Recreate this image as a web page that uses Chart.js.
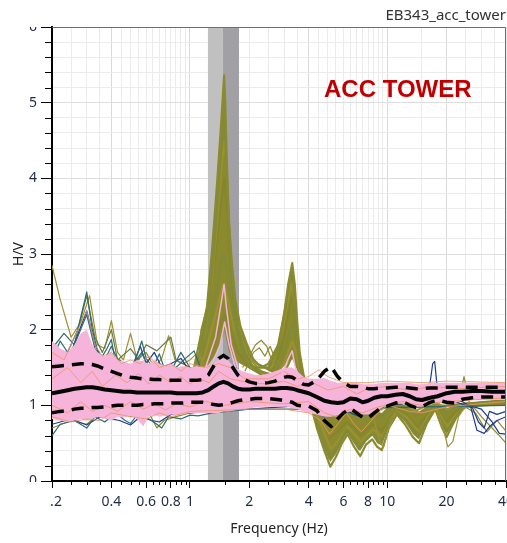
<!DOCTYPE html>
<html>
<head>
<meta charset="utf-8">
<title>EB343_acc_tower</title>
<script src="https://cdn.jsdelivr.net/npm/chart.js@4.4.1/dist/chart.umd.min.js"></script>
<style>
  html, body { margin: 0; padding: 0; background: #fff; }
</style>
</head>
<body>
<canvas id="hvChart" width="507" height="543"></canvas>
<script>
// ---- H/V data -------------------------------------------------------------

// frequency grid (Hz) for the statistic curves and the pink window band
const freqs = [0.2, 0.22, 0.24, 0.26, 0.28, 0.3, 0.32, 0.34, 0.37, 0.4,
  0.43, 0.46, 0.5, 0.54, 0.58, 0.62, 0.66, 0.7, 0.75, 0.8,
  0.86, 0.92, 1.0, 1.08, 1.16, 1.24, 1.32, 1.4, 1.48, 1.56,
  1.65, 1.75, 1.85, 2.0, 2.15, 2.3, 2.5, 2.7, 2.9, 3.1,
  3.3, 3.5, 3.75, 4.0, 4.4, 4.8, 5.2, 5.6, 6.0, 6.5,
  7.0, 7.5, 8.0, 8.6, 9.3, 10, 11, 12, 13, 14,
  15, 16.5, 18, 20, 22, 24, 27, 30, 34, 40];

const meanHV = [1.16, 1.18, 1.2, 1.22, 1.23, 1.24, 1.24, 1.23, 1.21, 1.2,
  1.19, 1.18, 1.18, 1.17, 1.17, 1.17, 1.17, 1.17, 1.17, 1.17,
  1.16, 1.16, 1.16, 1.16, 1.17, 1.2, 1.25, 1.29, 1.31, 1.29,
  1.25, 1.22, 1.21, 1.21, 1.22, 1.22, 1.22, 1.22, 1.23, 1.23,
  1.22, 1.2, 1.18, 1.16, 1.11, 1.06, 1.04, 1.03, 1.04, 1.09,
  1.08, 1.04, 1.06, 1.1, 1.12, 1.12, 1.14, 1.15, 1.12, 1.08,
  1.07, 1.1, 1.12, 1.16, 1.18, 1.18, 1.19, 1.19, 1.18, 1.18];

const upperHV = [1.51, 1.52, 1.53, 1.54, 1.55, 1.55, 1.54, 1.52, 1.48, 1.45,
  1.42, 1.39, 1.37, 1.36, 1.35, 1.35, 1.34, 1.34, 1.33, 1.33,
  1.33, 1.33, 1.33, 1.33, 1.34, 1.4, 1.52, 1.62, 1.66, 1.62,
  1.5, 1.4, 1.35, 1.31, 1.29, 1.29, 1.3, 1.32, 1.36, 1.38,
  1.37, 1.33, 1.28, 1.27, 1.33, 1.45, 1.51, 1.38, 1.3, 1.25,
  1.25, 1.24, 1.22, 1.22, 1.23, 1.23, 1.24, 1.24, 1.23, 1.22,
  1.22, 1.23, 1.23, 1.24, 1.24, 1.24, 1.24, 1.24, 1.24, 1.24];

const lowerHV = [0.9, 0.92, 0.93, 0.95, 0.96, 0.96, 0.97, 0.97, 0.98, 0.99,
  1.0, 1.0, 1.0, 1.0, 1.01, 1.01, 1.02, 1.02, 1.02, 1.03,
  1.03, 1.03, 1.04, 1.04, 1.04, 1.03, 1.01, 1.0, 1.01, 1.02,
  1.04, 1.06, 1.07, 1.08, 1.09, 1.09, 1.09, 1.08, 1.07, 1.06,
  1.04, 1.0, 0.99, 0.99, 0.93, 0.8, 0.72, 0.82, 0.9, 0.96,
  0.9, 0.84, 0.83, 0.9, 0.97, 0.99, 1.03, 1.05, 1.0, 0.97,
  0.98, 1.04, 1.07, 1.04, 1.03, 1.08, 1.1, 1.11, 1.11, 1.11];

// spread of the bulk of the windows (pink)
const pinkUpper = [1.85, 1.75, 1.7, 1.8, 1.95, 2.0, 1.8, 1.7, 1.65, 1.7,
  1.6, 1.58, 1.55, 1.6, 1.58, 1.55, 1.6, 1.55, 1.52, 1.55,
  1.5, 1.52, 1.5, 1.52, 1.5, 1.52, 1.55, 1.6, 1.62, 1.6,
  1.52, 1.48, 1.45, 1.42, 1.4, 1.4, 1.42, 1.45, 1.48, 1.5,
  1.5, 1.45, 1.38, 1.35, 1.35, 1.36, 1.32, 1.3, 1.3, 1.3,
  1.3, 1.28, 1.28, 1.28, 1.3, 1.3, 1.3, 1.3, 1.3, 1.28,
  1.28, 1.3, 1.3, 1.3, 1.3, 1.3, 1.3, 1.3, 1.3, 1.3];

const pinkLower = [0.82, 0.8, 0.78, 0.8, 0.82, 0.8, 0.82, 0.85, 0.83, 0.8,
  0.85, 0.84, 0.86, 0.82, 0.72, 0.86, 0.87, 0.85, 0.86, 0.88,
  0.87, 0.88, 0.9, 0.9, 0.9, 0.9, 0.9, 0.9, 0.92, 0.92,
  0.93, 0.94, 0.95, 0.96, 0.97, 0.98, 0.98, 0.98, 0.98, 0.98,
  0.96, 0.95, 0.92, 0.9, 0.88, 0.85, 0.85, 0.87, 0.9, 0.92,
  0.9, 0.88, 0.88, 0.92, 0.96, 1.0, 1.02, 1.02, 1.0, 0.98,
  0.98, 1.02, 1.04, 1.02, 1.03, 1.06, 1.07, 1.07, 1.07, 1.07];

// dense olive bundle around the two peaks
const peak1Freqs = [1.1, 1.13, 1.2, 1.25, 1.29, 1.33, 1.37, 1.42, 1.46, 1.49, 1.52, 1.55, 1.58, 1.63, 1.7, 1.8, 1.95, 2.05];
const peak1High = [1.6, 2.0, 2.25, 2.5, 3.0, 3.4, 3.95, 4.5, 5.0, 5.3, 4.9, 4.0, 3.4, 2.9, 2.4, 2.05, 1.8, 1.6];
const peak1Low = [1.5, 1.5, 1.5, 1.55, 1.6, 1.65, 1.7, 1.8, 1.9, 2.0, 1.9, 1.8, 1.7, 1.65, 1.6, 1.55, 1.5, 1.5];
const peak2Freqs = [2.5, 2.6, 2.8, 2.95, 3.1, 3.2, 3.3, 3.38, 3.46, 3.55, 3.65, 3.8];
const peak2High = [1.5, 1.6, 1.8, 2.05, 2.35, 2.65, 2.85, 2.65, 2.2, 1.75, 1.5, 1.35];
const peak2Low = [1.45, 1.45, 1.45, 1.5, 1.55, 1.6, 1.65, 1.6, 1.55, 1.5, 1.45, 1.35];

// dense olive bundle in the troughs above 4 Hz
const troughFreqs = [3.8, 4.0, 4.4, 4.8, 5.15, 5.5, 5.9, 6.3, 6.8, 7.3, 7.8, 8.4, 8.9,
  9.4, 10.2, 11.2, 12.3, 13.5, 14.5, 15.8, 17.5, 19, 20, 21.5, 23, 25];
const troughLow = [1.25, 1.05, 0.7, 0.42, 0.25, 0.36, 0.52, 0.64, 0.5, 0.4, 0.52, 0.6, 0.5,
  0.47, 0.74, 0.88, 0.78, 0.62, 0.55, 0.78, 0.96, 0.72, 0.62, 0.78, 0.92, 1.0];
const troughHigh = [1.25, 1.15, 1.0, 0.92, 0.88, 0.9, 0.95, 0.98, 0.92, 0.88, 0.92, 0.95, 0.92,
  0.9, 1.0, 1.02, 1.0, 0.95, 0.92, 0.98, 1.02, 0.97, 0.95, 1.0, 1.02, 1.03];

// olive windows with the 1.5 Hz and 3.3 Hz peaks, [Hz, H/V]
const oliveA = [[0.2,1.2],[0.9,1.3],[1.05,1.5],[1.13,1.9],[1.22,2.3],[1.29,3.0],[1.37,3.9],[1.43,4.6],[1.47,5.1],[1.49,5.36],[1.51,5.0],[1.54,4.2],[1.58,3.4],[1.63,2.9],[1.7,2.4],[1.8,2.05],[1.95,1.8],[2.1,1.6],[2.3,1.5],[2.5,1.55],[2.8,1.8],[3.0,2.2],[3.15,2.6],[3.3,2.88],[3.4,2.6],[3.5,2.1],[3.6,1.7],[3.8,1.35],[4.0,1.1],[4.4,0.7],[4.8,0.4],[5.15,0.19],[5.5,0.32],[5.9,0.5],[6.3,0.62],[6.8,0.45],[7.3,0.33],[7.8,0.48],[8.4,0.55],[8.9,0.45],[9.4,0.41],[10.2,0.7],[11.2,0.88],[12.3,0.75],[13.5,0.58],[14.5,0.5],[15.8,0.75],[17.5,0.95],[19,0.7],[20,0.58],[21.5,0.75],[23,0.9],[25,0.98],[30,1.0],[40,1.02]];
const oliveB = [[0.2,1.15],[0.9,1.2],[1.05,1.45],[1.15,1.8],[1.24,2.3],[1.32,3.0],[1.39,3.8],[1.45,4.5],[1.48,4.9],[1.51,4.6],[1.55,3.8],[1.6,3.0],[1.67,2.4],[1.76,2.0],[1.9,1.7],[2.1,1.5],[2.5,1.5],[2.8,1.75],[3.05,2.3],[3.25,2.75],[3.35,2.6],[3.47,2.0],[3.6,1.6],[3.8,1.3],[4.0,1.1],[4.5,0.7],[5.1,0.3],[5.6,0.45],[6.2,0.68],[6.7,0.55],[7.2,0.42],[7.8,0.55],[8.4,0.62],[9.3,0.5],[10.2,0.76],[11.2,0.9],[12.5,0.8],[14.3,0.58],[16,0.8],[17.5,0.97],[20,0.65],[22,0.82],[25,1.0],[40,1.04]];
const oliveC = [[0.2,1.2],[0.95,1.25],[1.1,1.6],[1.2,2.0],[1.3,2.7],[1.38,3.5],[1.45,4.2],[1.5,4.5],[1.53,4.2],[1.57,3.5],[1.62,2.9],[1.7,2.3],[1.82,1.9],[1.97,1.65],[2.2,1.5],[2.6,1.5],[2.9,1.9],[3.1,2.3],[3.28,2.62],[3.4,2.3],[3.52,1.8],[3.7,1.45],[4.0,1.15],[4.6,0.75],[5.2,0.42],[5.7,0.55],[6.3,0.72],[6.8,0.62],[7.4,0.52],[8.0,0.62],[8.5,0.68],[9.5,0.58],[10.3,0.8],[11.2,0.92],[12.5,0.85],[14.6,0.64],[16,0.85],[17.5,0.98],[20.2,0.72],[22,0.86],[25,1.0],[40,1.05]];
const oliveD = [[0.2,1.18],[1.0,1.3],[1.12,1.7],[1.22,2.1],[1.32,2.8],[1.4,3.4],[1.46,3.8],[1.5,4.0],[1.54,3.6],[1.6,2.9],[1.68,2.3],[1.8,1.9],[1.95,1.7],[2.2,1.55],[2.6,1.45],[2.9,1.75],[3.15,2.2],[3.3,2.45],[3.42,2.1],[3.55,1.7],[3.75,1.35],[4.0,1.15],[4.5,0.8],[5.0,0.55],[5.6,0.65],[6.2,0.78],[6.8,0.7],[7.3,0.6],[8.0,0.7],[8.6,0.75],[9.4,0.66],[10.3,0.84],[11.5,0.95],[12.5,0.88],[14.2,0.72],[16,0.88],[17.5,1.0],[19.8,0.78],[22,0.9],[25,1.02],[40,1.06]];
const oliveE = [[0.2,1.2],[0.95,1.2],[1.1,1.55],[1.2,1.9],[1.3,2.4],[1.4,3.0],[1.48,3.5],[1.53,3.3],[1.6,2.7],[1.7,2.1],[1.85,1.75],[2.0,1.55],[2.3,1.45],[2.6,1.4],[2.95,1.7],[3.2,2.1],[3.32,2.3],[3.45,1.95],[3.6,1.55],[3.8,1.3],[4.2,1.05],[4.7,0.85],[5.2,0.7],[5.8,0.78],[6.3,0.86],[6.9,0.8],[7.5,0.72],[8.2,0.8],[9.2,0.75],[10.2,0.9],[11.5,0.98],[12.8,0.92],[14.5,0.8],[16,0.92],[17.5,1.0],[20,0.85],[22,0.94],[25,1.02],[40,1.05]];
const oliveF = [[0.2,1.2],[1.0,1.25],[1.15,1.65],[1.27,2.1],[1.38,2.6],[1.47,3.0],[1.54,2.8],[1.63,2.3],[1.75,1.9],[1.9,1.6],[2.2,1.45],[2.7,1.4],[3.0,1.7],[3.25,2.0],[3.35,2.1],[3.5,1.75],[3.7,1.4],[4.0,1.2],[4.6,0.95],[5.3,0.82],[6.0,0.9],[6.6,0.95],[7.4,0.84],[8.2,0.9],[9.3,0.85],[10.5,0.97],[12,1.0],[14,0.86],[16,0.96],[17.5,1.02],[20,0.9],[23,1.0],[40,1.06]];
const oliveG = [[0.2,1.2],[1.05,1.3],[1.2,1.7],[1.35,2.2],[1.47,2.6],[1.56,2.4],[1.68,2.0],[1.85,1.7],[2.05,1.5],[2.7,1.35],[3.05,1.6],[3.3,1.85],[3.45,1.7],[3.65,1.4],[4.0,1.2],[5.0,0.95],[6.0,1.0],[7.3,0.93],[9.3,0.95],[11,1.02],[14,0.93],[17.5,1.05],[20,0.95],[40,1.06]];
const oliveH = [[0.2,1.2],[1.05,1.25],[1.25,1.6],[1.4,2.0],[1.5,2.2],[1.6,2.0],[1.75,1.7],[2.0,1.5],[2.7,1.3],[3.1,1.5],[3.3,1.65],[3.5,1.5],[3.75,1.3],[4.2,1.1],[5.2,0.98],[7.3,0.98],[14,0.98],[20,1.0],[40,1.07]];

// single windows standing out of the bundle
const oliveHump1 = [[1.85,1.5],[2.0,1.65],[2.15,1.8],[2.3,1.86],[2.45,1.78],[2.6,1.6],[2.75,1.5]];
const oliveHump2 = [[1.9,1.45],[2.1,1.7],[2.25,1.76],[2.4,1.65],[2.55,1.78],[2.7,1.62],[2.9,1.5]];
const oliveRight1 = [[20,1.02],[23,1.05],[24.5,1.38],[26,1.05],[30,0.85],[34,0.7],[37,0.6],[40,0.5]];
const oliveRight2 = [[24,1.0],[28,0.9],[32,0.65],[36,0.8],[40,0.66]];
const oliveDeep1 = [[17.5,1.0],[19.2,0.7],[20.3,0.45],[21.5,0.52],[23,0.85],[25,1.0]];
const oliveDeep2 = [[8.6,0.8],[9.2,0.5],[9.6,0.45],[10.2,0.7],[11,0.9]];
const oliveLowHigh = [[0.2,2.85],[0.22,2.4],[0.25,1.9],[0.28,2.1],[0.31,2.45],[0.34,1.8],[0.37,1.75],[0.4,2.12],[0.43,1.7],[0.46,1.6],[0.5,1.95],[0.54,1.6],[0.6,1.7],[0.66,1.5],[0.72,1.62],[0.78,1.92],[0.84,1.6],[0.92,1.55],[1.0,1.6],[1.1,1.7],[1.2,1.5]];
const oliveLowLow = [[0.2,0.7],[0.25,0.8],[0.3,0.75],[0.35,0.9],[0.4,0.85],[0.45,0.9],[0.5,0.85],[0.62,0.9],[0.68,0.7],[0.74,0.8],[0.85,0.85],[1.0,0.9],[1.2,0.92]];
const tealHigh = [[0.2,1.6],[0.22,1.85],[0.24,1.7],[0.27,2.0],[0.3,2.5],[0.32,2.0],[0.35,1.6],[0.38,1.75],[0.4,1.87],[0.42,1.55],[0.48,1.4],[0.53,1.6],[0.57,1.85],[0.6,1.62],[0.65,1.5],[0.7,1.68],[0.75,1.45],[0.85,1.5],[0.95,1.62],[1.05,1.72],[1.15,1.45],[1.3,1.3],[2,1.2],[4,1.1],[40,1.1]];
const tealHigh2 = [[0.2,1.75],[0.23,1.95],[0.26,1.8],[0.3,2.2],[0.33,1.75],[0.37,1.6],[0.4,1.78],[0.45,1.5],[0.52,1.55],[0.57,1.7],[0.62,1.5],[0.7,1.55],[0.8,1.45],[0.9,1.7],[1.0,1.5],[1.2,1.4]];
const tealLow = [[0.2,0.6],[0.22,0.75],[0.26,0.8],[0.3,0.7],[0.33,0.85],[0.37,0.78],[0.42,0.9],[0.47,0.8],[0.5,0.76],[0.55,0.9],[0.62,0.82],[0.68,0.75],[0.72,0.7],[0.78,0.85],[0.9,0.82],[1.0,0.87],[1.1,0.86],[1.3,0.9],[2,0.95],[4,0.95],[40,1.0]];
const greenHigh = [[0.2,1.45],[0.25,1.65],[0.3,2.45],[0.33,1.9],[0.36,1.7],[0.4,2.0],[0.43,1.6],[0.5,1.75],[0.55,1.6],[0.6,1.8],[0.68,1.72],[0.8,1.9],[0.85,1.6],[1.0,1.5],[1.2,1.4]];
const navyHigh = [[0.2,1.3],[0.25,1.7],[0.3,2.25],[0.33,1.8],[0.38,1.5],[0.44,1.6],[0.5,1.45],[0.56,1.78],[0.6,1.55],[0.66,1.7],[0.72,1.5],[0.8,1.55],[0.9,1.62],[1.0,1.45],[1.2,1.3],[2,1.2]];
const navyLow = [[0.2,0.75],[0.25,0.82],[0.3,0.74],[0.35,0.85],[0.44,0.8],[0.5,0.74],[0.56,0.85],[0.64,0.8],[0.7,0.78],[0.8,0.88],[1.0,0.9],[2.0,0.95],[3.8,1.0],[4.3,0.92],[4.8,0.85],[5.3,0.9],[6.0,0.95],[6.8,0.88],[7.3,0.85],[8,0.95],[9,1.0],[12,1.02]];
const navyRight1 = [[9,1.05],[15,1.05],[16.3,1.2],[17.0,1.55],[17.4,1.58],[17.9,1.25],[19,1.1],[24,1.05],[26.5,0.98],[28.5,0.67],[31,0.63],[33,0.72],[36,0.8],[40,0.85]];
const navyRight2 = [[22,1.05],[27,0.97],[29,0.78],[31,0.7],[33,0.92],[36,0.88],[40,0.92]];
const navyRight3 = [[26,1.0],[30,0.95],[34,0.78],[37,0.63],[40,0.62]];

// orange windows mixed into the pink spread
const salmon1 = [[0.2,1.7],[0.23,1.6],[0.26,1.9],[0.3,2.25],[0.33,1.8],[0.36,1.65],[0.4,1.7],[0.45,1.55],[0.5,1.6],[0.56,1.55],[0.62,1.65],[0.7,1.5],[0.8,1.55],[0.9,1.45],[1.0,1.55],[1.2,1.5],[1.4,1.55],[1.6,1.5],[1.9,1.35],[2.5,1.35],[3.0,1.45],[3.5,1.35],[4.0,1.38],[4.5,1.47],[5,1.38],[6,1.3],[8,1.3],[10,1.32],[15,1.3],[20,1.32],[40,1.3]];
const salmon2 = [[0.2,0.85],[0.25,0.78],[0.3,0.82],[0.35,0.8],[0.4,0.9],[0.5,0.85],[0.6,0.82],[0.7,0.9],[0.8,0.85],[1.0,0.92],[1.3,0.93],[2,0.95],[3,0.95],[4,0.9],[4.6,0.8],[5.1,0.62],[5.6,0.75],[6.2,0.9],[6.8,0.75],[7.4,0.65],[8,0.75],[9,0.9],[10,1.0],[13,0.92],[15,0.9],[20,0.98],[40,1.05]];
const salmon3 = [[0.2,1.35],[0.24,1.5],[0.28,1.3],[0.32,1.45],[0.36,1.25],[0.42,1.4],[0.48,1.3],[0.55,1.42],[0.62,1.28],[0.7,1.4],[0.8,1.3],[0.9,1.38],[1.0,1.28],[1.1,1.36],[1.25,1.3],[1.4,1.45],[1.6,1.35],[2,1.3],[2.5,1.28],[3,1.32],[3.5,1.25],[4.2,1.3],[5,1.2],[6,1.25],[7,1.15],[8,1.22],[10,1.25],[13,1.2],[17,1.25],[22,1.22],[40,1.25]];
const salmon4 = [[0.2,1.0],[0.24,0.9],[0.28,1.05],[0.32,0.92],[0.37,1.0],[0.43,0.92],[0.5,1.05],[0.58,0.95],[0.66,1.02],[0.75,0.94],[0.86,1.02],[1.0,0.98],[1.2,1.05],[1.5,1.0],[2,1.05],[3,1.02],[4,1.05],[4.8,0.9],[5.5,0.85],[6.5,0.95],[7.5,0.9],[9,0.98],[12,1.05],[15,1.0],[20,1.05],[40,1.1]];
const pinkPeak1 = [[1.2,1.5],[1.35,1.9],[1.45,2.4],[1.49,2.6],[1.53,2.3],[1.62,1.8],[1.75,1.5]];
const pinkPeak2 = [[1.25,1.45],[1.42,1.8],[1.5,2.1],[1.58,1.8],[1.7,1.5]];
const pinkPeak3 = [[2.9,1.4],[3.2,1.65],[3.3,1.72],[3.42,1.5],[3.6,1.35]];

// frequency range picked for the peak (Hz): start, f0, end
const bandEdges = [1.234, 1.47, 1.773];

// axis ticks
const xGridValues = [0.2, 0.25, 0.3, 0.35, 0.4, 0.45, 0.5, 0.55, 0.6, 0.65, 0.7, 0.75, 0.8, 0.85, 0.9, 0.95,
  1, 1.5, 2, 2.5, 3, 3.5, 4, 4.5, 5, 5.5, 6, 6.5, 7, 7.5, 8, 8.5, 9, 9.5, 10, 15, 20, 25, 30, 35, 40];
const xLabelValues = [0.2, 0.4, 0.6, 0.8, 1, 2, 4, 6, 8, 10, 20, 40];
const xLabelText = ['0.2', '0.4', '0.6', '0.8', '1', '2', '4', '6', '8', '10', '20', '40'];
const xStrongGrid = [0.4, 1, 4, 10, 20];
const yLabelValues = [0, 1, 2, 3, 4, 5, 6];

// ---- helpers ----------------------------------------------------------------

const onGrid = (xs, ys) => xs.map((f, i) => ({ x: f, y: ys[i] }));
const fromPairs = list => list.map(([x, y]) => ({ x, y }));
const near = (a, b) => Math.abs(a - b) < 1e-6;
const labelIndex = v => xLabelValues.findIndex(l => near(l, v));

function curve(data, color, width, order, extra) {
  return Object.assign({
    data: data,
    borderColor: color,
    borderWidth: width,
    pointRadius: 0,
    fill: false,
    order: order,
    borderJoinStyle: 'round',
    tension: 0
  }, extra || {});
}

const OLIVE = ['#8b8a2c', '#7f8a3c', '#9a9130', '#85852e'];
const OLIVE_FILL = '#8c8a2e';
const TEAL = '#2f6a72';
const NAVY = '#1e3a8a';
const GREEN = '#5f7d45';
const SALMON = 'rgba(236, 150, 100, 0.85)';
const PINK = '#f6b4db';
const CLEAR = 'rgba(0,0,0,0)';

const oliveSet = [oliveA, oliveB, oliveC, oliveD, oliveE, oliveF, oliveG, oliveH];

const datasets = [
  curve(onGrid(freqs, meanHV), '#050505', 4, 1),
  curve(onGrid(freqs, upperHV), '#050505', 3.5, 2, { borderDash: [12, 8] }),
  curve(onGrid(freqs, lowerHV), '#050505', 3.5, 2, { borderDash: [12, 8] }),
  curve(fromPairs(pinkPeak1), PINK, 1.5, 3),
  curve(fromPairs(pinkPeak2), PINK, 1.5, 3),
  curve(fromPairs(pinkPeak3), PINK, 1.5, 3),
  curve(fromPairs(salmon1), SALMON, 1, 4),
  curve(fromPairs(salmon2), SALMON, 1, 4),
  curve(fromPairs(salmon3), SALMON, 1, 4),
  curve(fromPairs(salmon4), SALMON, 1, 4),
  curve(onGrid(freqs, pinkUpper), CLEAR, 1, 5),
  curve(onGrid(freqs, pinkLower), CLEAR, 1, 5, { fill: '-1', backgroundColor: PINK }),
  curve(fromPairs(tealHigh), TEAL, 1.2, 6),
  curve(fromPairs(tealHigh2), TEAL, 1.2, 6),
  curve(fromPairs(tealLow), TEAL, 1.2, 6),
  curve(fromPairs(navyHigh), NAVY, 1.2, 6),
  curve(fromPairs(navyLow), NAVY, 1.2, 6),
  curve(fromPairs(greenHigh), GREEN, 1.2, 6),
  curve(fromPairs(oliveLowHigh), '#a08f2e', 1.2, 6),
  curve(fromPairs(oliveLowLow), '#8b8a2c', 1.2, 6),
  curve(fromPairs(navyRight1), NAVY, 1.2, 6),
  curve(fromPairs(navyRight2), NAVY, 1.2, 6),
  curve(fromPairs(navyRight3), NAVY, 1.2, 6),
  curve(fromPairs(oliveRight1), '#8f8a36', 1.2, 6),
  curve(fromPairs(oliveRight2), '#8f8a36', 1.2, 6),
  curve(fromPairs(oliveHump1), '#8f8a36', 1.2, 6),
  curve(fromPairs(oliveHump2), '#8f8a36', 1.2, 6),
  curve(fromPairs(oliveDeep1), '#9a9438', 1.2, 6),
  curve(fromPairs(oliveDeep2), '#9a9438', 1.2, 6)
];
oliveSet.forEach((w, i) => datasets.push(curve(fromPairs(w), OLIVE[i % OLIVE.length], 2.2, 7)));
[[peak1Freqs, peak1High, peak1Low], [peak2Freqs, peak2High, peak2Low], [troughFreqs, troughHigh, troughLow]]
  .forEach(([fx, hi, lo]) => {
    datasets.push(curve(onGrid(fx, hi), CLEAR, 1, 8));
    datasets.push(curve(onGrid(fx, lo), CLEAR, 1, 8, { fill: '-1', backgroundColor: OLIVE_FILL }));
  });

// ---- plugins ----------------------------------------------------------------

// grey frequency window behind the curves
const peakBand = {
  id: 'peakBand',
  beforeDatasetsDraw(chart) {
    const { ctx, chartArea: a, scales: { x } } = chart;
    const p = bandEdges.map(f => x.getPixelForValue(f));
    ctx.save();
    ctx.fillStyle = '#c0c0c0';
    ctx.fillRect(p[0], a.top, p[1] - p[0], a.bottom - a.top - 1);
    ctx.fillStyle = '#a1a1a5';
    ctx.fillRect(p[1], a.top, p[2] - p[1], a.bottom - a.top - 1);
    ctx.restore();
  }
};

// short minor ticks, frame, label clipping and the station caption
const decorations = {
  id: 'decorations',
  afterDraw(chart) {
    const { ctx, chartArea: a, scales: { x, y } } = chart;
    ctx.save();
    ctx.strokeStyle = '#000';
    ctx.lineWidth = 1;
    ctx.beginPath();
    x.ticks.forEach(t => {
      if (labelIndex(t.value) >= 0) return;
      const px = Math.round(x.getPixelForValue(t.value)) + 0.5;
      ctx.moveTo(px, a.bottom);
      ctx.lineTo(px, a.bottom + 4);
    });
    y.ticks.forEach(t => {
      if (yLabelValues.some(v => near(v, t.value))) return;
      const py = Math.round(y.getPixelForValue(t.value)) + 0.5;
      ctx.moveTo(a.left - 7, py);
      ctx.lineTo(a.left, py);
    });
    ctx.stroke();

    // top and right frame
    ctx.strokeStyle = '#6e6e6e';
    ctx.beginPath();
    ctx.moveTo(a.left, a.top + 0.5);
    ctx.lineTo(a.right - 0.5, a.top + 0.5);
    ctx.lineTo(a.right - 0.5, a.bottom);
    ctx.stroke();

    // axis labels are clipped to the axis extent
    ctx.fillStyle = '#fff';
    ctx.fillRect(0, 0, a.left - 2, a.top);
    ctx.fillRect(0, a.bottom + 1, a.left - 2, chart.height - a.bottom);

    ctx.fillStyle = '#c00000';
    ctx.font = 'bold 24px "Liberation Sans", Arial, sans-serif';
    ctx.textBaseline = 'alphabetic';
    ctx.fillText('ACC TOWER', 324, 97);
    ctx.restore();
  }
};

// ---- chart ------------------------------------------------------------------

Chart.defaults.font.family = "'Noto Sans', 'DejaVu Sans', sans-serif";
const tickColor = '#1f2a44';

new Chart(document.getElementById('hvChart'), {
  type: 'line',
  data: { datasets: datasets },
  options: {
    responsive: false,
    animation: false,
    devicePixelRatio: 1,
    events: [],
    layout: { padding: { left: 0, right: 1, top: 0, bottom: 0 } },
    plugins: {
      legend: { display: false },
      tooltip: { enabled: false },
      title: {
        display: true,
        text: 'EB343_acc_tower',
        align: 'end',
        color: '#333',
        font: { size: 15, weight: 'normal' },
        padding: { top: 7, bottom: 2 }
      }
    },
    scales: {
      x: {
        type: 'logarithmic',
        min: 0.2,
        max: 40,
        afterBuildTicks(scale) {
          scale.ticks = xGridValues.map(v => ({ value: v }));
        },
        afterFit(scale) {
          scale.height = 62;
          scale.paddingLeft = 0;
          scale.paddingRight = 0;
        },
        ticks: {
          autoSkip: false,
          maxRotation: 0,
          color: tickColor,
          padding: 6,
          font: { size: 14 },
          callback(value) {
            const i = labelIndex(value);
            return i >= 0 ? xLabelText[i] : '';
          }
        },
        grid: {
          color: c => (c.tick && xStrongGrid.some(v => near(v, c.tick.value))) ? '#d9d9d9' : '#ebebeb',
          tickColor: c => (c.tick && labelIndex(c.tick.value) >= 0) ? '#000' : CLEAR,
          tickLength: 7
        },
        border: { color: '#000', width: 2 },
        title: {
          display: true,
          text: 'Frequency (Hz)',
          color: '#222',
          font: { size: 14 },
          padding: { top: 0, bottom: 6 }
        }
      },
      y: {
        min: 0,
        max: 6,
        afterFit(scale) {
          scale.width = 52;
          scale.paddingTop = 0;
          scale.paddingBottom = 0;
        },
        ticks: {
          stepSize: 0.2,
          autoSkip: false,
          color: tickColor,
          padding: 4,
          font: { size: 14 },
          callback(value) {
            const r = Math.round(value);
            return near(value, r) && yLabelValues.includes(r) ? String(r) : '';
          }
        },
        grid: {
          color: c => (c.tick && near(c.tick.value, Math.round(c.tick.value))) ? '#dedede' : '#ebebeb',
          tickColor: c => (c.tick && near(c.tick.value, Math.round(c.tick.value))) ? '#000' : CLEAR,
          tickLength: 11
        },
        border: { color: '#000', width: 2 },
        title: {
          display: true,
          text: 'H/V',
          color: '#222',
          font: { size: 14 },
          padding: { top: 11, bottom: 0 }
        }
      }
    }
  },
  plugins: [peakBand, decorations]
});
</script>
</body>
</html>
